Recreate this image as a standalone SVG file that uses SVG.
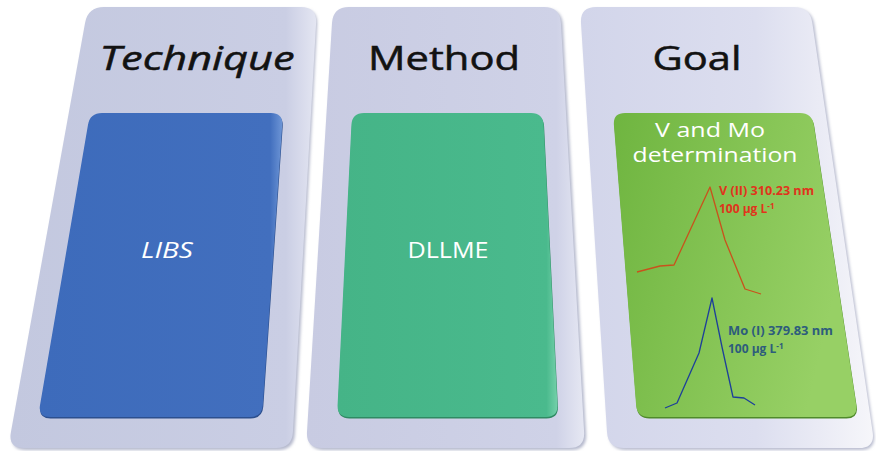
<svg xmlns="http://www.w3.org/2000/svg" width="876" height="451" viewBox="0 0 876 451">
  <style>
    .head { font-family: "Open Sans", "Noto Sans", sans-serif; font-size: 32px; fill: #121212; stroke: #121212; stroke-width: 0.5; text-anchor: middle; }
    .inner { font-family: "Open Sans", "Noto Sans", sans-serif; fill: #ffffff; text-anchor: middle; }
    .lbl { font-family: "Open Sans", "Liberation Sans", sans-serif; font-weight: bold; font-size: 13px; }
    .sub { font-family: "Open Sans", "Liberation Sans", sans-serif; font-weight: bold; font-size: 12px; }
    .spec { fill: none; stroke-width: 1.3; stroke-linejoin: round; }
  </style>
  <defs>
    <linearGradient id="card1" x1="0" y1="0" x2="1" y2="0">
      <stop offset="0" stop-color="#c3c8df"/>
      <stop offset="0.9" stop-color="#cacee4"/>
      <stop offset="1" stop-color="#e4e6f2"/>
    </linearGradient>
    <linearGradient id="card2" x1="0" y1="0" x2="1" y2="0">
      <stop offset="0" stop-color="#c8cbe2"/>
      <stop offset="0.9" stop-color="#cfd2e7"/>
      <stop offset="1" stop-color="#e6e8f3"/>
    </linearGradient>
    <linearGradient id="card3" x1="0" y1="0" x2="1" y2="0">
      <stop offset="0" stop-color="#d2d5ea"/>
      <stop offset="0.6" stop-color="#dcdeef"/>
      <stop offset="1" stop-color="#f6f6fa"/>
    </linearGradient>
    <linearGradient id="blueFill" x1="0" y1="0" x2="1" y2="0">
      <stop offset="0" stop-color="#3d6bbb"/>
      <stop offset="0.95" stop-color="#426fbe"/>
      <stop offset="1" stop-color="#6d95d6"/>
    </linearGradient>
    <linearGradient id="tealFill" x1="0" y1="0" x2="1" y2="0">
      <stop offset="0" stop-color="#45b487"/>
      <stop offset="0.95" stop-color="#4aba8d"/>
      <stop offset="1" stop-color="#74d0aa"/>
    </linearGradient>
    <linearGradient id="greenFill" x1="0" y1="0" x2="1" y2="0.3">
      <stop offset="0" stop-color="#6fb540"/>
      <stop offset="1" stop-color="#97d065"/>
    </linearGradient>
    <filter id="soft" x="-5%" y="-5%" width="110%" height="110%">
      <feGaussianBlur stdDeviation="1.5"/>
    </filter>
  </defs>

  <rect width="876" height="451" fill="#ffffff"/>

  <!-- Technique card -->
  <g id="technique">
    <path d="M105,9 L302,9 Q318,9 317.1,25 L294.9,434 Q294,450 278,450 L26,450 Q10,450 12.9,434.3 L87.1,24.7 Q90,9 105,9Z" fill="#b4b8cc" filter="url(#soft)"/>
    <path d="M104,7 L301,7 Q317,7 316.1,23 L292.9,432 Q292,448 276,448 L24,448 Q8,448 10.9,432.3 L85.1,22.7 Q88,7 104,7Z" fill="url(#card1)"/>
    <text class="head" x="197" y="70" font-style="italic" textLength="195" lengthAdjust="spacingAndGlyphs">Technique</text>
    <path d="M102,113 L271,113 Q283,113 282.2,125 L262.8,405 Q262,417 250,417 L50,417 Q38,417 40,405.2 L88,124.8 Q90,113 102,113Z" fill="#2c4f8e" transform="translate(0.5,1.5)"/>
    <path d="M102,113 L271,113 Q283,113 282.2,125 L262.8,405 Q262,417 250,417 L50,417 Q38,417 40,405.2 L88,124.8 Q90,113 102,113Z" fill="url(#blueFill)"/>
    <text class="inner" x="167" y="258" font-size="22" font-style="italic" textLength="52" lengthAdjust="spacingAndGlyphs">LIBS</text>
  </g>

  <!-- Method card -->
  <g id="method">
    <path d="M351,9 L546,9 Q562,9 562.9,25 L586.1,434 Q587,450 571,450 L324,450 Q308,450 309,434 L334,25 Q335,9 351,9Z" fill="#b4b8cc" filter="url(#soft)"/>
    <path d="M349,7 L544,7 Q560,7 560.9,23 L584.1,432 Q585,448 569,448 L322,448 Q306,448 307,432 L332,23 Q333,7 349,7Z" fill="url(#card2)"/>
    <text class="head" x="444" y="70" textLength="152" lengthAdjust="spacingAndGlyphs">Method</text>
    <path d="M364,113 L531,113 Q543,113 543.6,125 L557.4,405 Q558,417 546,417 L349,417 Q337,417 337.6,405 L351.4,125 Q352,113 364,113Z" fill="#2f8a63" transform="translate(0.5,1.5)"/>
    <path d="M364,113 L531,113 Q543,113 543.6,125 L557.4,405 Q558,417 546,417 L349,417 Q337,417 337.6,405 L351.4,125 Q352,113 364,113Z" fill="url(#tealFill)"/>
    <text class="inner" x="448" y="258" font-size="21" textLength="81" lengthAdjust="spacingAndGlyphs">DLLME</text>
  </g>

  <!-- Goal card -->
  <g id="goal">
    <path d="M598,9 L796,9 Q812,9 814.3,24.8 L874,434 Q876,450 861,450 L626,450 Q610,450 609,434 L583,25 Q582,9 598,9Z" fill="#b8bbcf" filter="url(#soft)"/>
    <path d="M596,7 L794,7 Q810,7 812.3,22.8 L872.7,432.2 Q875,448 859,448 L624,448 Q608,448 607,432 L581,23 Q580,7 596,7Z" fill="url(#card3)"/>
    <text class="head" x="697" y="70" textLength="89" lengthAdjust="spacingAndGlyphs">Goal</text>
    <path d="M625,113 L800,113 Q812,113 813.8,124.9 L856.2,405.1 Q858,417 846,417 L649,417 Q637,417 636.1,405 L613.9,125 Q613,113 625,113Z" fill="#4f8a2a" transform="translate(0.5,1.5)"/>
    <path d="M625,113 L800,113 Q812,113 813.8,124.9 L856.2,405.1 Q858,417 846,417 L649,417 Q637,417 636.1,405 L613.9,125 Q613,113 625,113Z" fill="url(#greenFill)"/>
    <text class="inner" x="710" y="137" font-size="20" textLength="110" lengthAdjust="spacingAndGlyphs">V and Mo</text>
    <text class="inner" x="715" y="162" font-size="20" textLength="165" lengthAdjust="spacingAndGlyphs">determination</text>

    <!-- V (II) emission line -->
    <polyline class="spec" stroke="#c9521c" points="637,272 660,266 674,265 710,187 725,240 745,289 761,294"/>
    <text class="lbl" fill="#e0341c" x="719" y="195" textLength="95" lengthAdjust="spacingAndGlyphs">V (II) 310.23 nm</text>
    <text class="sub" fill="#e0341c" x="719" y="213">100 µg L<tspan font-size="8" dy="-4">-1</tspan></text>

    <!-- Mo (I) emission line -->
    <polyline class="spec" stroke="#1d3f9a" points="665,408 677,403 699,353 712,298 722,347 733,397 744,398 755,405"/>
    <text class="lbl" fill="#2d5c7c" x="728" y="335" textLength="105" lengthAdjust="spacingAndGlyphs">Mo (I) 379.83 nm</text>
    <text class="sub" fill="#2d5c7c" x="728" y="353">100 µg L<tspan font-size="8" dy="-4">-1</tspan></text>
  </g>
</svg>
